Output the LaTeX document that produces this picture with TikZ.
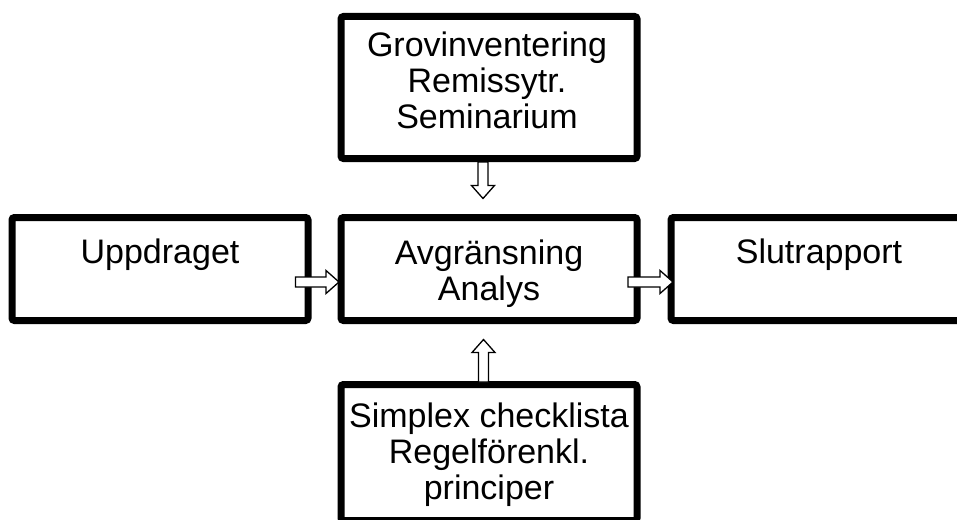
\documentclass[tikz,border=0pt]{standalone}
\usepackage{fontspec}
\setmainfont{Liberation Sans}
\usetikzlibrary{calc}

\tikzset{
  ruta/.style={draw=black, line width=7pt, rounded corners=2.5pt, minimum width=296pt, minimum height=103pt, inner sep=0pt},
  rubrik/.style={align=center, font=\fontsize{34}{36}\selectfont, inner sep=0pt},
  pil/.style={draw=black, fill=white, line width=1.3pt, line join=miter}
}

% blockpil mellan två namngivna punkter
\newcommand{\blockpil}[2]{%
  \path[pil] let \p1=($(#2)-(#1)$), \n1={atan2(\y1,\x1)}, \n2={veclen(\x1,\y1)} in
    [shift={(#1)}, rotate=\n1] (0,5) -- (\n2-13,5) -- (\n2-13,11.5) -- (\n2,0)
    -- (\n2-13,-11.5) -- (\n2-13,-5) -- (0,-5) -- cycle;}

\begin{document}
\begin{tikzpicture}[x=1pt, y=-1pt]
    \useasboundingbox (0,0) rectangle (957,519);

    % rutor
    \node[ruta, minimum height=142pt] (grov) at (489,87.5) {};
    \node[ruta] (uppdrag) at (160,269) {};
    \node[ruta] (avgr) at (489,269) {};
    \node[ruta] (slut) at (819,269) {};
    \node[ruta, minimum height=136pt] (simplex) at (489,452.5) {};

    % texter
    \node[rubrik] (grov-text) at ($(grov)+(-2,-7.5)$) {Grovinventering\\Remissytr.\\Seminarium};
    \node[rubrik] (uppdrag-text) at ($(uppdrag)+(0,-14)$) {Uppdraget};
    \node[rubrik] (avgr-text) at ($(avgr)+(0,5)$) {Avgränsning\\Analys};
    \node[rubrik] (slut-text) at ($(slut)+(0,-14)$) {Slutrapport};
    \node[rubrik] (simplex-text) at ($(simplex)+(0,2)$) {Simplex checklista\\Regelförenkl.\\principer};

    % pilar
    \coordinate (p1a) at ($(grov.south)+(-6,0)$);
    \coordinate (p1b) at ($(avgr.north)+(-6,-15.5)$);
    \coordinate (p2a) at ($(uppdrag.east)+(-16,13)$);
    \coordinate (p2b) at ($(avgr.west)+(1.5,13)$);
    \coordinate (p3a) at ($(avgr.east)+(-12.5,13)$);
    \coordinate (p3b) at ($(slut.west)+(5.5,13)$);
    \coordinate (p4a) at ($(simplex.north)+(-5.5,1)$);
    \coordinate (p4b) at ($(avgr.south)+(-5.5,15.5)$);
    \blockpil{p1a}{p1b}
    \blockpil{p2a}{p2b}
    \blockpil{p3a}{p3b}
    \blockpil{p4a}{p4b}
\end{tikzpicture}
\end{document}
